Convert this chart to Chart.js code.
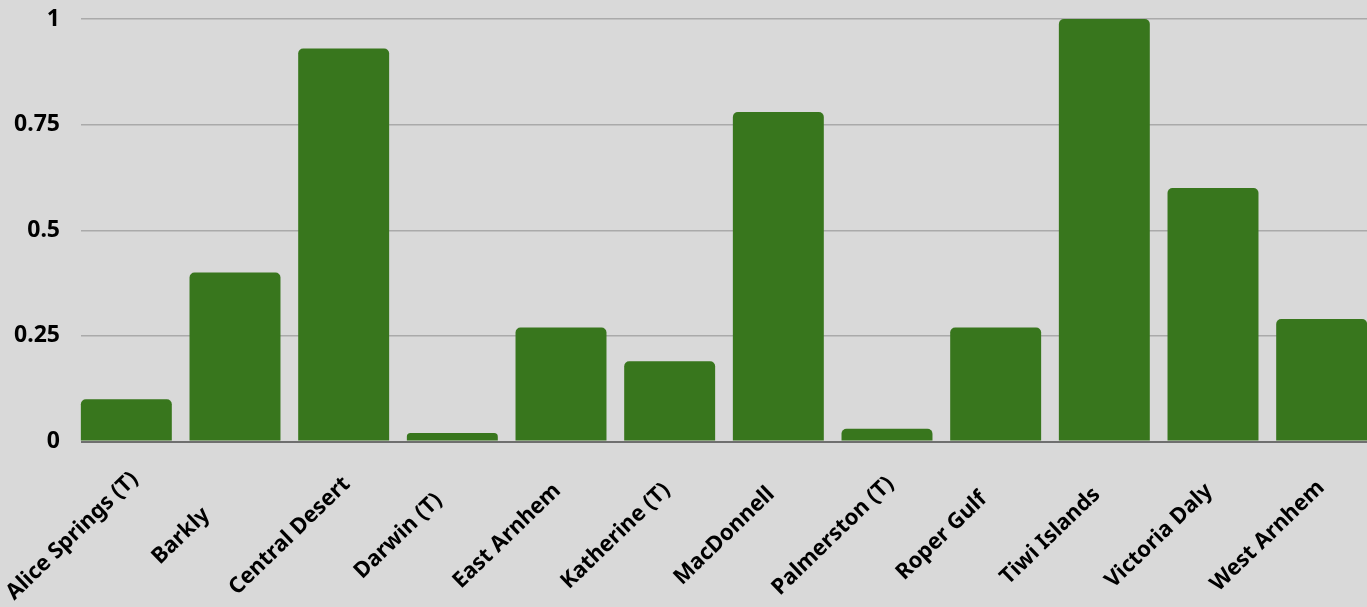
<!DOCTYPE html>
<html>
<head>
<meta charset="utf-8">
<script src="https://cdn.jsdelivr.net/npm/chart.js@4.4.1/dist/chart.umd.min.js"></script>
<style>
  html, body { margin: 0; padding: 0; background: #d9d9d9; overflow: hidden; }
  #wrap { position: relative; width: 1376px; height: 607px; }
</style>
</head>
<body>
<div id="wrap"><canvas id="regionChart"></canvas></div>
<script>
// Region names and values
const regions = [
  "Alice Springs (T)", "Barkly", "Central Desert", "Darwin (T)", "East Arnhem",
  "Katherine (T)", "MacDonnell", "Palmerston (T)", "Roper Gulf", "Tiwi Islands",
  "Victoria Daly", "West Arnhem"
];
const shareValues = [0.10, 0.40, 0.93, 0.02, 0.27, 0.19, 0.78, 0.03, 0.27, 1.00, 0.60, 0.29];
const yTicks = [0, 0.25, 0.5, 0.75, 1];

const bgColour = "#d9d9d9";
const barColour = "#38761d";
const gridStart = 81; // gridlines begin at the left edge of the first bar
const labelFont = "bold 22px 'Noto Sans'";
const labelAngle = 44;

// Paint over the bit of grid that sits left of the first bar
const trimGrid = {
  id: "trimGrid",
  beforeDatasetsDraw(chart) {
    const { ctx, chartArea } = chart;
    ctx.save();
    ctx.fillStyle = bgColour;
    ctx.fillRect(chartArea.left - 1, chartArea.top - 3, gridStart - chartArea.left + 1, chartArea.bottom - chartArea.top + 6);
    ctx.restore();
  },
};

// Category labels are slanted and centred on their middle, not on their end
const slantedLabels = {
  id: "slantedLabels",
  afterDraw(chart) {
    const { ctx } = chart;
    const xs = chart.scales.x;
    ctx.save();
    ctx.font = labelFont;
    ctx.fillStyle = "#000";
    ctx.textAlign = "center";
    ctx.textBaseline = "middle";
    xs.ticks.forEach((t, i) => {
      const px = xs.getPixelForTick(i) - 54;
      const py = xs.top + 94.5;
      ctx.save();
      ctx.translate(px, py);
      ctx.rotate((-labelAngle * Math.PI) / 180);
      ctx.fillText(chart.data.labels[i], 0, 0);
      ctx.restore();
    });
    ctx.restore();
  },
};

function initChart() {
  const ctx = document.getElementById("regionChart").getContext("2d");
  new Chart(ctx, {
    type: "bar",
    data: {
      labels: regions,
      datasets: [
        {
          data: shareValues,
          backgroundColor: barColour,
          borderWidth: 0,
          borderRadius: 5,
          borderSkipped: "start",
          categoryPercentage: 1,
          barPercentage: 0.837,
        },
      ],
    },
    options: {
      responsive: true,
      maintainAspectRatio: false,
      animation: false,
      layout: { padding: { top: 19, left: 0, right: 0, bottom: 0 } },
      plugins: {
        legend: { display: false },
        tooltip: { enabled: false },
      },
      scales: {
        x: {
          grid: { display: false },
          border: { display: false },
          ticks: { display: false, autoSkip: false },
          afterFit(scale) {
            scale.height = 165.5;
            scale.paddingLeft = 0;
            scale.paddingRight = 0;
          },
        },
        y: {
          min: 0,
          max: 1,
          afterBuildTicks(scale) {
            scale.ticks = yTicks.map((v) => ({ value: v }));
          },
          grid: {
            drawTicks: false,
            color: (c) => (c.tick && c.tick.value === 0 ? "#6f6f6f" : "#aaaaaa"),
            lineWidth: (c) => (c.tick && c.tick.value === 0 ? 2 : 1.5),
          },
          border: { display: false },
          ticks: {
            padding: 12,
            color: "#000",
            font: { family: "'Noto Sans'", weight: "bold", size: 23 },
            callback: (v) => String(v),
          },
          afterFit(scale) {
            scale.width = 72;
            scale.paddingTop = 0;
            scale.paddingBottom = 0;
          },
        },
      },
    },
    plugins: [trimGrid, slantedLabels],
  });
}

window.onload = initChart;
</script>
</body>
</html>
